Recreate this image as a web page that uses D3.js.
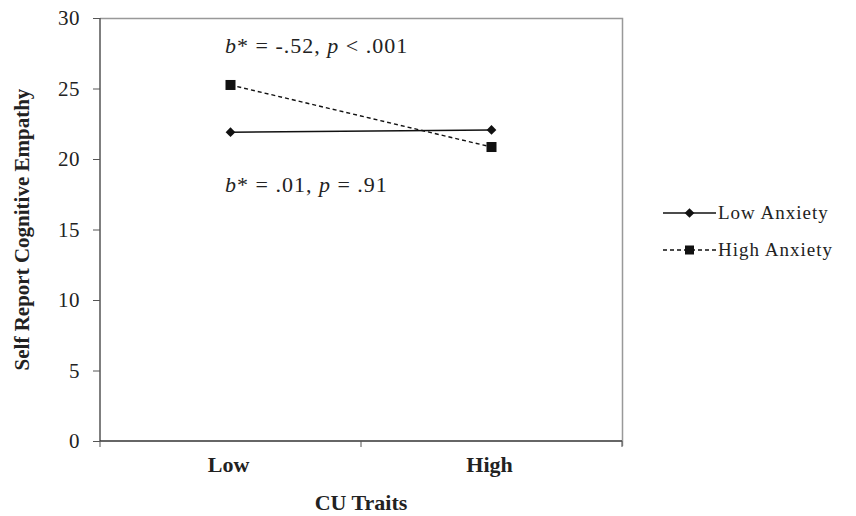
<!DOCTYPE html>
<html>
<head>
<meta charset="utf-8">
<script src="https://cdn.jsdelivr.net/npm/d3@7"></script>
<style>
  body { margin: 0; background: #fff; }
  svg { display: block; font-family: "Liberation Serif", "Times New Roman", serif; }
</style>
</head>
<body>
<svg id="chart" width="856" height="516"></svg>
<script>
// categories on the x axis
var cu_levels = ["Low", "High"];
// series values
var low_anxiety = [21.9, 22.06];
var high_anxiety = [25.25, 20.85];
var y_ticks = [0, 5, 10, 15, 20, 25, 30];
var series_names = ["Low Anxiety", "High Anxiety"];
var notes = ["b* = -.52, p < .001", "b* = .01, p = .91"];

var margin = {top: 18, left: 100, right: 234, bottom: 75};
var width = 856 - margin.left - margin.right,
    height = 516 - margin.top - margin.bottom;

var svg = d3.select("#chart");
var g = svg.append("g").attr("transform", "translate(" + margin.left + "," + margin.top + ")");

var x = d3.scaleBand().domain(cu_levels).range([0, width]);
var y = d3.scaleLinear().domain([0, 30]).range([height, 0]);

// gray frame top / right
g.append("path")
  .attr("d", "M0,0.5H" + (width + 0.5) + "V" + (height + 5))
  .attr("fill", "none").attr("stroke", "#999").attr("stroke-width", 1.5);

// y axis
var yAxis = g.append("g")
  .call(d3.axisLeft(y).tickValues(y_ticks).tickSize(7).tickPadding(13));
yAxis.select(".domain").attr("stroke", "#555").attr("stroke-width", 1.5).attr("d", "M0," + height + "V0");
yAxis.selectAll(".tick line").attr("stroke", "#555");
yAxis.selectAll(".tick text").attr("font-size", 21).attr("fill", "#222")
  .attr("font-family", "Liberation Serif").attr("letter-spacing", 0.5).attr("dy", "0.33em");

// x axis: ticks on band edges
var xAxis = g.append("g").attr("transform", "translate(0," + height + ")");
xAxis.append("line").attr("x1", 0).attr("x2", width).attr("stroke", "#333").attr("stroke-width", 1.5);
var edges = [0].concat(cu_levels.map(function(c) { return x(c) + x.bandwidth(); }));
xAxis.selectAll(".edge").data(edges).enter().append("line")
  .attr("x1", function(d) { return d; }).attr("x2", function(d) { return d; })
  .attr("y1", 0).attr("y2", 6).attr("stroke", "#555");
xAxis.selectAll(".cat").data(cu_levels).enter().append("text")
  .attr("x", function(d) { return x(d) + x.bandwidth() / 2 - 2; })
  .attr("y", 31)
  .attr("text-anchor", "middle")
  .attr("font-size", 22).attr("font-weight", "bold").attr("fill", "#222")
  .text(function(d) { return d; });

// axis titles
g.append("text")
  .attr("x", width / 2).attr("y", height + 69)
  .attr("text-anchor", "middle").attr("font-size", 22).attr("font-weight", "bold").attr("fill", "#222")
  .text("CU Traits");
g.append("text")
  .attr("transform", "translate(-71," + (height / 2) + ") rotate(-90)")
  .attr("text-anchor", "middle").attr("font-size", 21).attr("font-weight", "bold").attr("fill", "#222")
  .text("Self Report Cognitive Empathy");

var cx = function(i) { return x(cu_levels[i]) + x.bandwidth() / 2; };
var line = d3.line().x(function(d, i) { return cx(i); }).y(function(d) { return y(d); });

// lines
g.append("path").datum(low_anxiety).attr("d", line)
  .attr("fill", "none").attr("stroke", "#111").attr("stroke-width", 1.6);
g.append("path").datum(high_anxiety).attr("d", line)
  .attr("fill", "none").attr("stroke", "#111").attr("stroke-width", 1.4).attr("stroke-dasharray", "4,3");

var diamond = d3.symbol().type(d3.symbolDiamond2).size(60);
g.selectAll(".dia").data(low_anxiety).enter().append("path")
  .attr("d", diamond)
  .attr("transform", function(d, i) { return "translate(" + cx(i) + "," + y(d) + ")"; })
  .attr("fill", "#111");
g.selectAll(".sq").data(high_anxiety).enter().append("rect")
  .attr("x", function(d, i) { return cx(i) - 5; })
  .attr("y", function(d) { return y(d) - 5; })
  .attr("width", 10).attr("height", 10)
  .attr("fill", "#111");

// annotations with italic b and p
function note(txt, yy) {
  var t = g.append("text").attr("x", 125).attr("y", yy).attr("font-size", 22)
    .attr("letter-spacing", 1).attr("fill", "#222");
  var m = txt.match(/^b(\* = [^,]+, )p( .*)$/);
  t.append("tspan").attr("font-style", "italic").text("b");
  t.append("tspan").text(m[1]);
  t.append("tspan").attr("font-style", "italic").text("p");
  t.append("tspan").text(m[2]);
}
note(notes[0], 35);
note(notes[1], 174);

// legend
var legend = svg.append("g").attr("transform", "translate(663,0)");
var rows = legend.selectAll(".row").data(series_names).enter().append("g")
  .attr("transform", function(d, i) { return "translate(0," + (213 + i * 37) + ")"; });
rows.append("line").attr("x1", 0).attr("x2", 53)
  .attr("stroke", "#111").attr("stroke-width", 1.5)
  .attr("stroke-dasharray", function(d, i) { return i ? "4,3" : null; });
rows.filter(function(d, i) { return i === 0; }).append("path")
  .attr("d", diamond).attr("transform", "translate(26.5,0)").attr("fill", "#111");
rows.filter(function(d, i) { return i === 1; }).append("rect")
  .attr("x", 22).attr("y", -4.5).attr("width", 9).attr("height", 9).attr("fill", "#111");
rows.append("text").attr("x", 55).attr("y", 6).attr("font-size", 19)
  .attr("letter-spacing", 1).attr("fill", "#222")
  .text(function(d) { return d; });
</script>
</body>
</html>
